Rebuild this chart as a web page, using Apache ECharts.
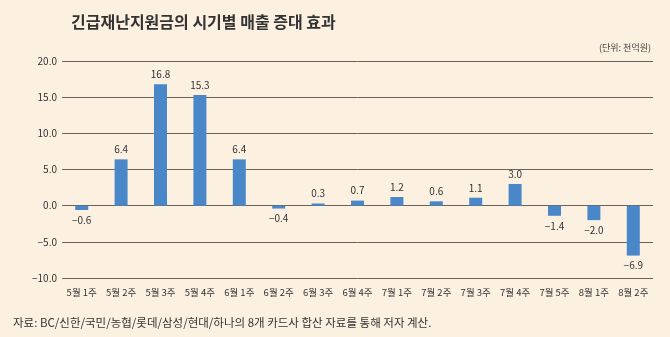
<!DOCTYPE html>
<html><head><meta charset="utf-8">
<script src="https://cdn.jsdelivr.net/npm/echarts@6/dist/echarts.min.js"></script>
<style>html,body{margin:0;padding:0;background:#fcf0e1;}#c{width:670px;height:337px;}</style>
</head><body><div id="c"></div>
<script>
const categories = ['5월 1주','5월 2주','5월 3주','5월 4주','6월 1주','6월 2주','6월 3주','6월 4주','7월 1주','7월 2주','7월 3주','7월 4주','7월 5주','8월 1주','8월 2주'];
const values = [-0.6, 6.4, 16.8, 15.3, 6.4, -0.4, 0.3, 0.7, 1.2, 0.6, 1.1, 3.0, -1.4, -2.0, -6.9];
const yTicks = [-10, -5, 0, 5, 10, 15, 20];
const font = '"Noto Sans CJK KR", "Noto Sans", sans-serif';
const fmt = v => (v < 0 ? '\u2212' : '') + Math.abs(v).toFixed(1);
const chart = echarts.init(document.getElementById('c'));
chart.setOption({
  backgroundColor: '#fcf0e1',
  animation: false,
  title: [
    {text: '긴급재난지원금의 시기별 매출 증대 효과', left: 66, top: 9,
     textStyle: {fontFamily: font, fontSize: 16, fontWeight: 'bold', color: '#333'}},
    {text: '(단위: 천억원)', right: 14, top: 38,
     textStyle: {fontFamily: font, fontSize: 9, fontWeight: 'normal', color: '#444'}},
    {text: '자료: BC/신한/국민/농협/롯데/삼성/현대/하나의 8개 카드사 합산 자료를 통해 저자 계산.', left: 8, top: 312,
     textStyle: {fontFamily: font, fontSize: 11.5, fontWeight: 'normal', color: '#333'}}
  ],
  grid: {left: 62, right: 17, top: 61, bottom: 59},
  xAxis: {
    type: 'category', data: categories,
    axisLine: {show: false}, axisTick: {show: false},
    axisLabel: {fontFamily: font, fontSize: 9.5, color: '#333', margin: 10, interval: 0}
  },
  yAxis: {
    type: 'value', min: yTicks[0], max: yTicks[yTicks.length-1], interval: 5,
    axisLine: {show: false}, axisTick: {show: false},
    splitLine: {lineStyle: {color: '#6a625c', width: 1}},
    axisLabel: {fontFamily: font, fontSize: 10, color: '#333', margin: 5, formatter: fmt}
  },
  series: [{
    type: 'bar', barWidth: 13,
    data: values.map(v => ({value: v, label: {position: v < 0 ? 'bottom' : 'top', distance: 5}})),
    itemStyle: {color: '#4a87c9'},
    label: {show: true, fontFamily: font, fontSize: 10, color: '#333',
      formatter: p => fmt(p.value)}
  }]
});
</script></body></html>
